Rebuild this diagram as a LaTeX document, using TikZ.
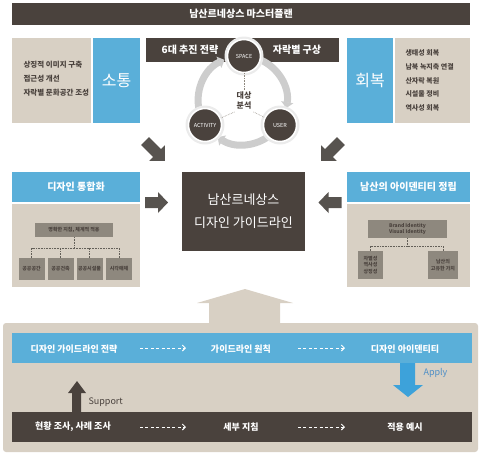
\documentclass[tikz,border=0pt]{standalone}
\usepackage{fontspec}
\setmainfont{Noto Sans CJK KR}
\usetikzlibrary{arrows.meta,calc}
\definecolor{dk}{HTML}{4A423D}
\definecolor{bl}{HTML}{5AAFD9}
\definecolor{bg}{HTML}{D8D0C4}
\definecolor{gb}{HTML}{8E887E}
\definecolor{ar}{HTML}{57534F}
\definecolor{ringc}{HTML}{CDCDCD}
\definecolor{applyc}{HTML}{3DA2DA}
\definecolor{applyt}{HTML}{4F8FC6}
\newcommand\blockarr[7]{% x y rot L w s h
  \begin{scope}[shift={(#1,#2)},rotate=#3]
    \fill[ar] (-#4/2,-#6/2) -- (#4/2-#7,-#6/2) -- (#4/2-#7,-#5/2) -- (#4/2,0)
      -- (#4/2-#7,#5/2) -- (#4/2-#7,#6/2) -- (-#4/2,#6/2) -- cycle;
  \end{scope}}
\tikzset{
  rect/.style={inner sep=0pt, outer sep=0pt, anchor=north west},
  wtxt/.style={text=white},
  circ/.style={circle, fill=dk, draw=white, line width=1.5pt, minimum size=33pt, inner sep=0pt, text=white, font=\fontsize{5.5}{6}\selectfont},
  smalltxt/.style={font=\fontsize{5}{6.5}\selectfont\bfseries, text=dk, align=center},
  gbox/.style={fill=gb, inner sep=0pt, outer sep=0pt},
  treeline/.style={draw=gb!70!black, densely dotted, line width=0.6pt},
  dasharr/.style={draw=white, dashed, dash pattern=on 3pt off 2.4pt, line width=1pt, -{Straight Barb[length=3pt,width=6pt]}},
  bartxt/.style={text=white, font=\fontsize{9}{11}\selectfont\bfseries},
}
\begin{document}
\begin{tikzpicture}[x=1pt,y=-1pt]
\useasboundingbox (0,0) rectangle (480,453);
% top bar
\node[rect, fill=dk, minimum width=458pt, minimum height=22pt] (top) at (12,3) {};
\node[wtxt, font=\fontsize{10}{12}\selectfont\bfseries] (toptxt) at (top.center) {남산르네상스 마스터플랜};
% upper left
\node[rect, fill=bg, minimum width=79pt, minimum height=85pt] (lb) at (12,38) {};
\node[rect, fill=bl, minimum width=47pt, minimum height=85pt] (lbl) at (93,38) {};
\node[wtxt, font=\fontsize{16}{18}\selectfont] (sotong) at (lbl.center) {소통};
\node[anchor=west, align=left, font=\fontsize{7.5}{14}\selectfont\bfseries, text=dk] (ltxt) at (20,79) {상징적 이미지 구축\\접근성 개선\\자락별 문화공간 조성};
% upper right
\node[rect, fill=bl, minimum width=46pt, minimum height=85pt] (rbl) at (347,38) {};
\node[rect, fill=bg, minimum width=75pt, minimum height=85pt] (rb) at (395,38) {};
\node[wtxt, font=\fontsize{16}{18}\selectfont] (hoebok) at (rbl.center) {회복};
\node[anchor=west, align=left, font=\fontsize{7}{13.6}\selectfont\bfseries, text=dk] (rtxt) at (402,80.5) {생태성 회복\\남북 녹지축 연결\\산자락 복원\\시설물 정비\\역사성 회복};
% center bar
\node[rect, fill=dk, minimum width=193pt, minimum height=24pt] (cb) at (146,38) {};
\node[wtxt, font=\fontsize{10}{12}\selectfont\bfseries] (six) at (190,50) {6대 추진 전략};
\node[wtxt, font=\fontsize{10}{12}\selectfont\bfseries] (jarak) at (297,50) {자락별 구상};
% ring
\coordinate (rc) at (242.5,100.4);
\draw[ringc, line width=7pt, -{Triangle[length=6pt,width=12pt]}] (rc) ++(-66:44.4) arc[start angle=-66, end angle=10, radius=44.4];
\draw[ringc, line width=7pt, -{Triangle[length=6pt,width=12pt]}] (rc) ++(56:44.4) arc[start angle=56, end angle=124, radius=44.4];
\draw[ringc, line width=7pt, -{Triangle[length=6pt,width=12pt]}] (rc) ++(170:44.4) arc[start angle=170, end angle=246, radius=44.4];
\fill[black!8] (244,56) circle (19.5);
\fill[black!8] (205,125) circle (19.5);
\fill[black!8] (280,125) circle (19.5);
\node[circ] (space) at (244,56) {SPACE};
\node[circ] (act) at (205,125) {ACTIVITY};
\node[circ] (user) at (280,125) {USER};
\node[font=\fontsize{8}{10}\selectfont\bfseries, text=dk, align=center, inner sep=2pt] (tgt) at (244,101) {대상\\분석};
\draw[gb, densely dotted, line width=0.6pt] (space) -- (tgt);
\draw[gb, densely dotted, line width=0.6pt] (tgt.south west) -- (act);
\draw[gb, densely dotted, line width=0.6pt] (tgt.south east) -- (user);
% diagonal and horizontal block arrows
\blockarr{155}{151}{-45}{28}{22}{11}{11}
\blockarr{331}{151}{-135}{28}{22}{11}{11}
\blockarr{156.5}{202.5}{0}{23}{21}{11}{10}
\blockarr{330}{202.5}{180}{23}{21}{11}{10}
% center box
\node[rect, fill=dk, minimum width=123pt, minimum height=79pt] (cbox) at (182,172) {};
\node[wtxt, align=center, font=\fontsize{13}{23}\selectfont] (ctxt) at (cbox.center) {남산르네상스\\디자인 가이드라인};
% left box
\node[rect, fill=bl, minimum width=128pt, minimum height=30pt] (lh) at (12,172) {};
\node[wtxt, font=\fontsize{10}{12}\selectfont\bfseries] (lhtxt) at (lh.center) {디자인 통합화};
\node[rect, fill=bg, minimum width=128pt, minimum height=83pt] (lbody) at (12,204) {};
\node[gbox, minimum width=78pt, minimum height=14pt, smalltxt] (lg) at (74,230) {명확한 지침, 체계적 적용};
\node[gbox, minimum width=26pt, minimum height=22pt, smalltxt] (l1) at (31.5,269) {공공공간};
\node[gbox, minimum width=26pt, minimum height=22pt, smalltxt] (l2) at (60.5,269) {공공건축};
\node[gbox, minimum width=26pt, minimum height=22pt, smalltxt] (l3) at (89.5,269) {공공시설물};
\node[gbox, minimum width=26pt, minimum height=22pt, smalltxt] (l4) at (119,269) {시각매체};
\coordinate (lj) at (74,248);
\draw[treeline] (lg.south) -- (lj);
\draw[treeline] (l1.north) |- (lj);
\draw[treeline] (l4.north) |- (lj);
\draw[treeline] (l2.north) -- (l2.north |- lj);
\draw[treeline] (l3.north) -- (l3.north |- lj);
% right box
\node[rect, fill=bl, minimum width=123pt, minimum height=30pt] (rh) at (347,172) {};
\node[wtxt, font=\fontsize{10}{12}\selectfont\bfseries] (rhtxt) at (rh.center) {남산의 아이덴티티 정립};
\node[rect, fill=bg, minimum width=123pt, minimum height=83pt] (rbody) at (347,204) {};
\node[gbox, minimum width=79pt, minimum height=18pt, smalltxt] (rg) at (407.5,229) {Brand Identity\\Visual Identity};
\node[gbox, minimum width=25pt, minimum height=28pt, smalltxt] (r1) at (370.5,265) {차별성\\역사성\\상징성};
\node[gbox, minimum width=30pt, minimum height=28pt, smalltxt] (r2) at (443,265) {남산의\\고유한 가치};
\coordinate (rj) at (407.5,246);
\draw[treeline] (rg.south) -- (rj);
\draw[treeline] (r1.north) |- (rj);
\draw[treeline] (r2.north) |- (rj);
% bottom panel with up arrow
\fill[bg] (245,289) -- (293,303) -- (280,303) -- (280,324) -- (209,324) -- (209,303) -- (197,303) -- cycle;
\node[rect, fill=bg, rounded corners=3pt, minimum width=475pt, minimum height=129pt] (panel) at (3,323) {};
\node[rect, fill=bl, minimum width=460pt, minimum height=30pt] (bbar) at (12,333) {};
\node[rect, fill=dk, minimum width=460pt, minimum height=30pt] (dbar) at (12,412) {};
\node[bartxt] (b1) at (74,349) {디자인 가이드라인 전략};
\node[bartxt] (b2) at (241,349) {가이드라인 원칙};
\node[bartxt] (b3) at (405,349) {디자인 아이덴티티};
\node[bartxt] (d1) at (73,427) {현황 조사, 사례 조사};
\node[bartxt] (d2) at (241,427) {세부 지침};
\node[bartxt] (d3) at (405,427) {적용 예시};
\draw[dasharr] (140,348) -- (186,348);
\draw[dasharr] (298,348) -- (345,348);
\draw[dasharr] (140,427) -- (186,427);
\draw[dasharr] (298,427) -- (345,427);
% apply arrow
\fill[applyc] (400,363) -- (415,363) -- (415,385) -- (423,385) -- (408,397) -- (393,385) -- (400,385) -- cycle;
\node[anchor=west, text=applyt, font=\fontsize{9}{11}\selectfont] (apply) at (420,373) {Apply};
% support arrow
\fill[dk] (72,412) -- (72,393) -- (68,393) -- (77,381) -- (86,393) -- (81,393) -- (81,412) -- cycle;
\node[anchor=west, text=dk, font=\fontsize{9}{11}\selectfont] (support) at (85,402) {Support};
\end{tikzpicture}
\end{document}
